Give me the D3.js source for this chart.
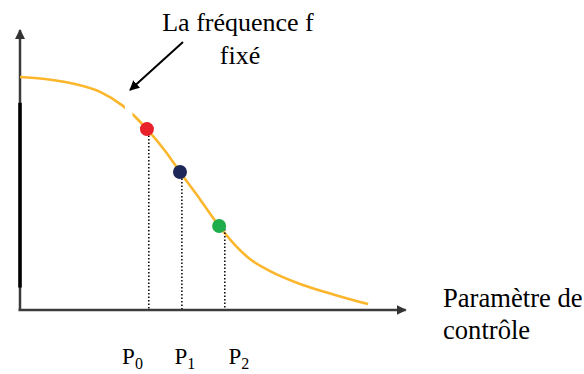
<!DOCTYPE html>
<html><head><meta charset="utf-8">
<script src="https://cdn.jsdelivr.net/npm/d3@7"></script>
<style>html,body{margin:0;padding:0;background:#fff;}svg{display:block;}
text{font-family:"Liberation Serif","Times New Roman",Times,Tinos,"DejaVu Serif","Noto Serif",serif;fill:#000;}</style>
</head><body>
<svg id="c" width="584" height="374"></svg>
<script>
// curve (control parameter -> response)
const curveX = [0, 6.6, 13.2, 21.1, 27.1, 33.4, 38.2, 42.1, 47.4, 52.4, 56.6, 60.5, 65.8, 73.7, 82.9, 91.6];
const curveY = [83.2, 82.5, 81.1, 77.9, 72.9, 64.6, 56.8, 49.3, 39.5, 30, 23.2, 18.2, 13.9, 9.3, 5.4, 2.1];
// operating points
const pointNames = ["P0", "P1", "P2"];
const pointX = [33.4, 42.1, 52.4];
const pointY = [64.6, 49.3, 30];
const pointColors = ["#e8212b", "#1d2859", "#1fad4c"];
const dropX = [33.9, 42.6, 53.9];
const labelX = [29.6, 43.4, 57.6];
const xLabel = ["Paramètre de", "contrôle"];
const annotation = ["La fréquence f", "fixé"];

const svg = d3.select("#c");
const x = d3.scaleLinear().domain([0, 100]).range([20, 400]);
const y = d3.scaleLinear().domain([0, 100]).range([310, 30]);

const defs = svg.append("defs");
defs.append("marker").attr("id","ah").attr("viewBox","0 0 10 10").attr("refX",9).attr("refY",5)
  .attr("markerWidth",4).attr("markerHeight",4).attr("orient","auto-start-reverse")
  .append("path").attr("d","M0,0 L10,5 L0,10 z").attr("fill","#333");
defs.append("marker").attr("id","ah2").attr("viewBox","0 0 10 10").attr("refX",9).attr("refY",5)
  .attr("markerWidth",10).attr("markerHeight",10).attr("markerUnits","userSpaceOnUse").attr("orient","auto")
  .append("path").attr("d","M0,0 L10,5 L0,10 z").attr("fill","#000");

// axes
svg.append("line").attr("x1", x(0)).attr("y1", y(0)).attr("x2", x(0)).attr("y2", y(100))
  .attr("stroke","#3c3c3c").attr("stroke-width",2.5).attr("marker-end","url(#ah)");
svg.append("line").attr("x1", x(0)).attr("y1", y(74)).attr("x2", x(0)).attr("y2", y(8))
  .attr("stroke","#000").attr("stroke-width",3.5);
svg.append("line").attr("x1", x(0)-1.5).attr("y1", y(0)).attr("x2", x(101.5)).attr("y2", y(0))
  .attr("stroke","#3c3c3c").attr("stroke-width",2.5).attr("marker-end","url(#ah)");

// curve with a small gap
defs.append("clipPath").attr("id","gap").append("path")
  .attr("d", `M0,0 H584 V374 H0 Z M${x(27.6)},${y(78)} L${x(29.6)},${y(78)} L${x(29.6)},${y(66)} L${x(27.6)},${y(66)} Z`)
  .attr("clip-rule","evenodd");
const line = d3.line().x((d,i)=>x(curveX[i])).y((d,i)=>y(curveY[i])).curve(d3.curveMonotoneX);
svg.append("path").attr("d", line(curveX)).attr("fill","none").attr("stroke","#fbb62c")
  .attr("stroke-width",2.6).attr("clip-path","url(#gap)");

// drop lines
pointX.forEach((px,i)=>{
  svg.append("line").attr("x1", x(dropX[i])).attr("y1", y(pointY[i])+3)
    .attr("x2", x(dropX[i])).attr("y2", y(0)-1)
    .attr("stroke","#000").attr("stroke-width",1.5).attr("stroke-dasharray","1.5,2");
});
// points
svg.selectAll("circle.p").data(pointX).join("circle").attr("class","p")
  .attr("cx",(d)=>x(d)).attr("cy",(d,i)=>y(pointY[i])).attr("r",7)
  .attr("fill",(d,i)=>pointColors[i]);

// labels P0..P2
pointNames.forEach((n,i)=>{
  const t = svg.append("text").attr("x", x(labelX[i])).attr("y", 364).attr("text-anchor","middle")
    .attr("font-size",23);
  t.append("tspan").text(n[0]);
  t.append("tspan").attr("dy",5).attr("font-size",16).text(n.slice(1));
});

// x label
xLabel.forEach((s,i)=>{
  svg.append("text").attr("x",443).attr("y",307+i*32).attr("font-size",26.6).text(s);
});
// annotation
annotation.forEach((s,i)=>{
  svg.append("text").attr("x",i===0?238:240).attr("y",31+i*33).attr("text-anchor","middle")
    .attr("font-size",26).text(s);
});
svg.append("line").attr("x1",183).attr("y1",42).attr("x2",130).attr("y2",90)
  .attr("stroke","#000").attr("stroke-width",2).attr("marker-end","url(#ah2)");
</script>
</body></html>
